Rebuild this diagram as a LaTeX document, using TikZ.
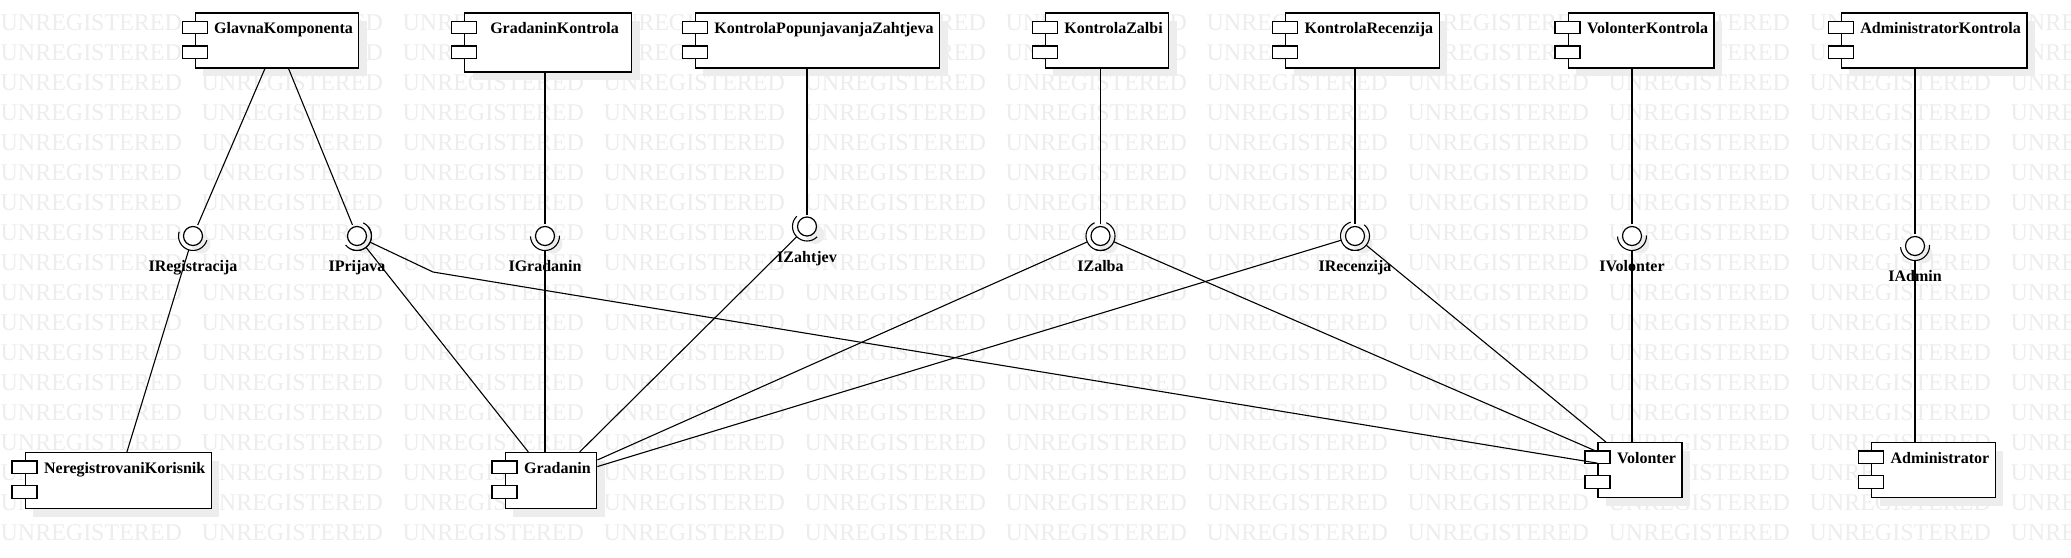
\documentclass[tikz,border=0pt]{standalone}
\usepackage{fontspec}
\setmainfont{Liberation Serif}
\usepackage{tikz}
\usetikzlibrary{calc,shadows}

\newcommand\utor[2]{\draw[veza] let \p1=($(#2)-(#1)$), \n1={atan2(\y1,\x1)} in
  ([shift={(\n1-90:14.5)}]#1.center) arc[start angle=\n1-90, end angle=\n1+90, radius=14.5];}

\begin{document}
\begin{tikzpicture}[x=1pt, y=1pt, line width=1.2pt,
    sjena/.style={drop shadow={shadow xshift=8pt, shadow yshift=-8pt, fill=black!7, opacity=1}},
    komp/.style={draw, fill=white, anchor=north west, inner xsep=6pt, inner ysep=0pt,
      text height=21pt, text depth=34pt, font=\bfseries\fontsize{16}{19}\selectfont,
      execute at begin node={\hspace*{13pt}}, sjena},
    kugla/.style={draw, circle, fill=white, minimum size=19pt, inner sep=0pt, outer sep=2.5pt, sjena},
    oznaka/.style={font=\bfseries\fontsize{16}{19}\selectfont, inner sep=0pt, text height=11pt,
      text depth=4pt, yshift=-12pt},
    vodeni/.style={text=black!7, font=\fontsize{24}{28}\selectfont, inner sep=0pt, anchor=base west},
    veza/.style={line width=1.1pt},
    prima/.style={veza, shorten <=2.5pt}]
  \fill[white] (0,0) rectangle (2071,-557);
  \useasboundingbox (0,0) rectangle (2071,-557);
  \foreach \r in {0,...,17}
    \foreach \c in {0,...,10}
      \node[vodeni] (wm-\r-\c) at ({201*\c},{-30-30*\r}) {UNREGISTERED};

  \node[komp] (glavna) at (194.6,-12.3) {GlavnaKomponenta};
  \node[komp, minimum width=167pt, text depth=38pt] (gradk) at (464,-12.3) {GradaninKontrola};
  \node[komp] (kpz) at (694.7,-12.3) {KontrolaPopunjavanjaZahtjeva};
  \node[komp] (kzalbi) at (1044.7,-12.3) {KontrolaZalbi};
  \node[komp] (krec) at (1285,-12.3) {KontrolaRecenzija};
  \node[komp] (volk) at (1567.5,-12.3) {VolonterKontrola};
  \node[komp] (admk) at (1840.7,-12.3) {AdministratorKontrola};
  \node[komp, text depth=35pt] (nereg) at (24.5,-452) {NeregistrovaniKorisnik};
  \node[komp, text depth=35pt] (gradanin) at (504.5,-452) {Gradanin};
  \node[komp] (volonter) at (1597.4,-442) {Volonter};
  \node[komp] (admin) at (1871,-442) {Administrator};
  \foreach \k in {glavna,gradk,kpz,kzalbi,krec,volk,admk,nereg,gradanin,volonter,admin} {
    \draw[fill=white] ([shift={(-12.5,-9)}]\k.north west) rectangle ++(25,-12.5);
    \draw[fill=white] ([shift={(-12.5,-33.7)}]\k.north west) rectangle ++(25,-12.5);
  }

  \node[kugla, label={[oznaka]below:IRegistracija}] (ireg) at (193,-236) {};
  \node[kugla, label={[oznaka]below:IPrijava}] (iprijava) at (357,-236) {};
  \node[kugla, label={[oznaka]below:IGradanin}] (igrad) at (545,-236) {};
  \node[kugla, label={[oznaka]below:IZahtjev}] (izahtjev) at (807,-226.5) {};
  \node[kugla, label={[oznaka]below:IZalba}] (izalba) at (1100.5,-236) {};
  \node[kugla, label={[oznaka]below:IRecenzija}] (irec) at (1355,-236) {};
  \node[kugla, label={[oznaka]below:IVolonter}] (ivol) at (1632,-236) {};
  \node[kugla, label={[oznaka]below:IAdmin}] (iadmin) at (1915,-246) {};
  \coordinate (prelom) at (433,-272);

  \draw[veza] (glavna) -- (ireg);
  \draw[veza] (glavna) -- (iprijava);
  \draw[veza] (gradk.south -| igrad) -- (igrad);
  \draw[veza] (kpz.south -| izahtjev) -- (izahtjev);
  \draw[veza] (kzalbi.south -| izalba) -- (izalba);
  \draw[veza] (krec.south -| irec) -- (irec);
  \draw[veza] (volk.south -| ivol) -- (ivol);
  \draw[veza] (admk.south -| iadmin) -- (iadmin);

  \draw[prima] (ireg) -- (nereg);
  \draw[prima] (iprijava) -- (gradanin);
  \draw[prima] (iprijava) -- (prelom) -- (volonter);
  \draw[prima] (igrad) -- (igrad |- gradanin.north);
  \draw[prima] (izahtjev) -- (gradanin);
  \draw[prima] (izalba) -- (gradanin);
  \draw[prima] (izalba) -- (volonter);
  \draw[prima] (irec) -- (gradanin);
  \draw[prima] (irec) -- (volonter);
  \draw[prima] (ivol) -- (ivol |- volonter.north);
  \draw[prima] (iadmin) -- (iadmin |- admin.north);

  \utor{ireg}{nereg}
  \utor{iprijava}{gradanin}
  \utor{iprijava}{prelom}
  \utor{igrad}{gradanin}
  \utor{izahtjev}{gradanin}
  \utor{izalba}{gradanin}
  \utor{izalba}{volonter}
  \utor{irec}{gradanin}
  \utor{irec}{volonter}
  \utor{ivol}{volonter}
  \utor{iadmin}{admin}
\end{tikzpicture}
\end{document}
